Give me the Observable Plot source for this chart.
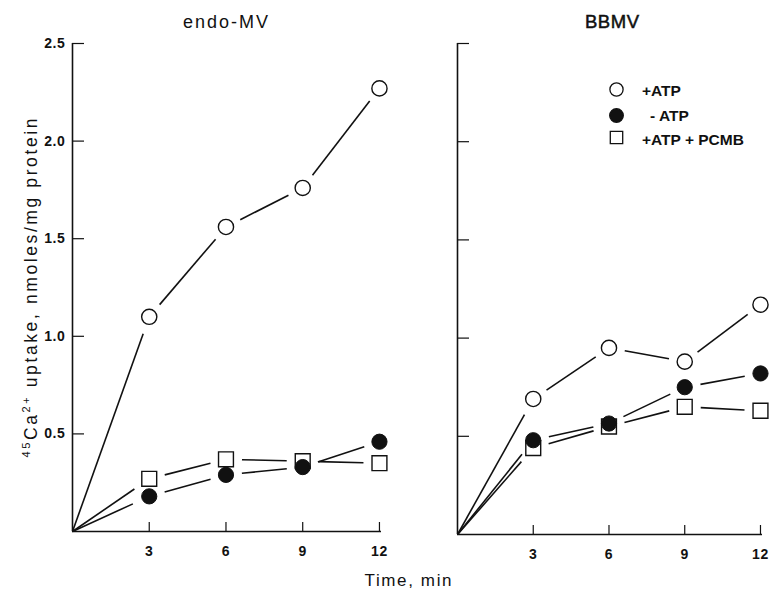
<!DOCTYPE html>
<html>
<head>
<meta charset="utf-8">
<script src="https://cdn.jsdelivr.net/npm/d3@7"></script>
<script src="https://cdn.jsdelivr.net/npm/@observablehq/plot@0.6"></script>
<style>
  body { margin: 0; background: #fff; }
  #wrap { position: relative; width: 770px; height: 590px; overflow: hidden; }
  #wrap svg { position: absolute; top: 0; }
</style>
</head>
<body>
<div id="wrap"></div>
<script>
// ---- data ----
const times = [0, 3, 6, 9, 12];
const xTicks = [3, 6, 9, 12];
const yTicks = [0.5, 1.0, 1.5, 2.0, 2.5];
const yTickLabels = ["0.5", "1.0", "1.5", "2.0", "2.5"];
const panelTitles = ["endo-MV", "BBMV"];
const seriesNames = ["+ATP", "- ATP", "+ATP + PCMB"];

const endoPlusATP  = [0, 1.10, 1.56, 1.76, 2.27];
const endoMinusATP = [0, 0.18, 0.29, 0.33, 0.46];
const endoPCMB     = [0, 0.27, 0.37, 0.36, 0.35];

const bbmvPlusATP  = [0, 0.69, 0.95, 0.88, 1.17];
const bbmvMinusATP = [0, 0.48, 0.565, 0.75, 0.82];
const bbmvPCMB     = [0, 0.44, 0.55, 0.65, 0.63];

const ink = "#111";
const FONT = "'Liberation Sans', Arial, Helvetica, sans-serif";
const H = 590, MT = 43;
const X_DOMAIN = [0, 12.08], Y_DOMAIN = [0, 2.5];
const GAP_ORIGIN_END = 18, GAP = 16; // pixel gap between line ends and marker centres

function points(vals) {
  return vals.map((v, i) => ({t: times[i], v})).filter(d => d.t > 0);
}

// segments between consecutive points, shortened by a pixel gap at each marker
function segments(vals, kx, ky) {
  return vals.slice(0, -1).map((v, i) => {
    const x1 = times[i], y1 = v, x2 = times[i + 1], y2 = vals[i + 1];
    const len = Math.hypot((x2 - x1) * kx, (y2 - y1) * ky);
    const a = (i === 0 ? 0 : GAP) / len;
    const b = (i === 0 ? GAP_ORIGIN_END : GAP) / len;
    return {
      x1: x1 + (x2 - x1) * a, y1: y1 + (y2 - y1) * a,
      x2: x2 - (x2 - x1) * b, y2: y2 - (y2 - y1) * b
    };
  });
}

function panel({width, marginLeft, marginRight, marginBottom, series, showLabels, legend}) {
  const fw = width - marginLeft - marginRight;
  const fh = H - MT - marginBottom;
  const kx = fw / (X_DOMAIN[1] - X_DOMAIN[0]);
  const ky = fh / (Y_DOMAIN[1] - Y_DOMAIN[0]);
  const allSegs = series.flatMap(s => segments(s.vals, kx, ky));
  const marks = [
    Plot.ruleX([0], {stroke: ink, strokeWidth: 1.6}),
    Plot.ruleY([0], {stroke: ink, strokeWidth: 1.6}),
    // inward tick marks
    Plot.tickY(yTicks, {y: d => d, insetRight: fw - 12, stroke: ink, strokeWidth: 1.2}),
    Plot.tickX(xTicks, {x: d => d, insetTop: fh - 9, stroke: ink, strokeWidth: 1.2}),
    Plot.link(allSegs, {x1: "x1", y1: "y1", x2: "x2", y2: "y2", stroke: ink, strokeWidth: 1.6, strokeLinecap: "butt"}),
    Plot.dot(points(series[2].vals), {x: "t", y: "v", symbol: "square", r: 8.4, fill: "white", stroke: ink, strokeWidth: 1.4}),
    Plot.dot(points(series[1].vals), {x: "t", y: "v", symbol: "circle", r: 7.6, fill: ink, stroke: ink, strokeWidth: 1}),
    Plot.dot(points(series[0].vals), {x: "t", y: "v", symbol: "circle", r: 7.6, fill: "white", stroke: ink, strokeWidth: 1.4})
  ];
  if (showLabels) {
    marks.push(Plot.axisY(yTicks, {
      tickSize: 0, tickPadding: 7, fill: ink,
      fontSize: 14, fontWeight: "bold", fontFamily: FONT,
      tickFormat: d => yTickLabels[yTicks.indexOf(d)], label: null
    }));
  } else {
    marks.push(Plot.axisY([], {label: null}));
  }
  marks.push(Plot.axisX(xTicks, {
    tickSize: 0, tickPadding: 15, fill: ink,
    fontSize: 14, fontWeight: "bold", fontFamily: FONT, label: null
  }));
  if (legend) {
    const rows = [
      {symbol: "circle", r: 6.6, fill: "white", dy: 46},
      {symbol: "circle", r: 6.8, fill: ink, dy: 72},
      {symbol: "square", r: 7.0, fill: "white", dy: 94}
    ];
    for (const row of rows) {
      marks.push(Plot.dot([row], {frameAnchor: "top-left", dx: 159, dy: row.dy, symbol: row.symbol, r: row.r, fill: row.fill, stroke: ink, strokeWidth: 1.3}));
    }
  }
  const svg = Plot.plot({
    width, height: H,
    marginLeft, marginRight, marginTop: MT, marginBottom,
    x: {domain: X_DOMAIN, label: null},
    y: {domain: Y_DOMAIN, label: null},
    style: {fontFamily: FONT, background: "transparent", overflow: "visible"},
    marks
  });
  d3.select(svg).selectAll("[aria-label$='tick label'] text").attr("letter-spacing", 0.6);
  return svg;
}

const wrap = document.getElementById("wrap");

const left = panel({
  width: 400, marginLeft: 72, marginRight: 19, marginBottom: 59,
  series: [{vals: endoPlusATP}, {vals: endoMinusATP}, {vals: endoPCMB}],
  showLabels: true, legend: false
});
left.style.left = "0px";
wrap.appendChild(left);

const right = panel({
  width: 370, marginLeft: 57, marginRight: 8, marginBottom: 56,
  series: [{vals: bbmvPlusATP}, {vals: bbmvMinusATP}, {vals: bbmvPCMB}],
  showLabels: false, legend: true
});
right.style.left = "400px";
wrap.appendChild(right);

// ---- titles, axis labels, legend text ----
const ov = d3.select(wrap).append("svg")
  .attr("width", 770).attr("height", 590)
  .style("left", "0px").style("pointer-events", "none")
  .attr("font-family", FONT).attr("fill", ink);

function label(x, y, txt, size, len, weight, anchor) {
  const t = ov.append("text").attr("x", x).attr("y", y)
    .attr("text-anchor", anchor || "middle")
    .attr("font-size", size).attr("font-weight", weight || "normal")
    .text(txt);
  if (len) t.attr("textLength", len).attr("lengthAdjust", "spacing");
  return t;
}

label(225.5, 28, panelTitles[0], 18, 85);
label(612, 28, panelTitles[1], 18.5, 54).attr("stroke", ink).attr("stroke-width", 0.5);
label(408, 586, "Time, min", 17, 87);

label(642, 96, seriesNames[0], 15.5, null, "bold", "start");
label(650, 121, seriesNames[1], 15.5, null, "bold", "start");
label(642, 145, seriesNames[2], 15.5, null, "bold", "start");

const yl = ov.append("text")
  .attr("transform", "translate(37,288) rotate(-90)")
  .attr("text-anchor", "middle").attr("font-size", 17.5)
  .attr("textLength", 339).attr("lengthAdjust", "spacing");
yl.append("tspan").attr("font-size", 11).attr("dy", -7).text("45");
yl.append("tspan").attr("dy", 7).text("Ca");
yl.append("tspan").attr("font-size", 11).attr("dy", -7).text("2+");
yl.append("tspan").attr("dy", 7).text(" uptake, nmoles/mg protein");
</script>
</body>
</html>
